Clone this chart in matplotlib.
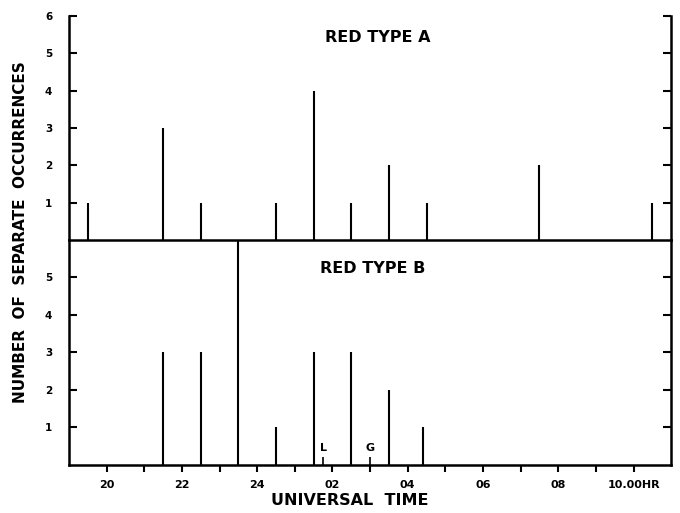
import numpy as np
import matplotlib.pyplot as plt

# universal time in hours (24 = midnight, 26 = 02h ...)
hours_a = [19.5, 21.5, 22.5, 24.5, 25.5, 26.5, 27.5, 28.5, 31.5, 34.5]
count_a = [1, 3, 1, 1, 4, 1, 2, 1, 2, 1]

hours_b = [21.5, 22.5, 23.5, 24.5, 25.5, 26.5, 27.5, 28.4]
count_b = [3, 3, 6, 1, 3, 3, 2, 1]

mark_pos = [25.75, 27.0]
mark_txt = ['L', 'G']

xticks = [20, 22, 24, 26, 28, 30, 32, 34]
xlabels = ['20', '22', '24', '02', '04', '06', '08', '10.00HR']

plt.rcParams['font.family'] = ['DejaVu Sans']
plt.rcParams['font.weight'] = 'bold'

fig = plt.figure(figsize=(6.8, 5.13), dpi=100)
ax2 = fig.add_axes([0.1015, 0.0936, 0.8855, 0.4386])
ax1 = fig.add_axes([0.1015, 0.5322, 0.8855, 0.4366])
ax1.patch.set_alpha(0)

lw = 1.8
for ax in (ax1, ax2):
    ax.set_xlim(19, 35)
    ax.set_ylim(0, 6)
    ax.spines['top'].set_visible(False)
    for s in ('left', 'right', 'bottom'):
        ax.spines[s].set_linewidth(lw)
    ax.tick_params(axis='y', direction='in', length=6, width=1.5,
                   right=True, labelsize=7.5, pad=12)

ax1.vlines(hours_a, 0, count_a, color='k', linewidth=1.5)
ax1.set_yticks(range(1, 7))
ax1.set_xticks([])
ax1.text(0.513, 0.905, 'RED TYPE A', transform=ax1.transAxes, ha='center',
         va='center', fontsize=11.5)

ax2.vlines(hours_b, 0, count_b, color='k', linewidth=1.5)
ax2.vlines(mark_pos, 0, 0.2, color='k', linewidth=1.2)
for p, t in zip(mark_pos, mark_txt):
    ax2.text(p, 0.45, t, ha='center', va='center', fontsize=8)
ax2.set_yticks(range(1, 6))
ax2.set_xticks(xticks)
ax2.set_xticklabels(xlabels)
ax2.set_xticks(np.arange(21, 35, 2), minor=True)
ax2.tick_params(axis='x', which='both', direction='out', length=5,
                width=1.5, labelsize=8, pad=6)
ax2.text(0.505, 0.875, 'RED TYPE B', transform=ax2.transAxes, ha='center',
         va='center', fontsize=11.5)

fig.text(0.515, 0.025, 'UNIVERSAL  TIME', ha='center', va='center',
         fontsize=11.5)
fig.text(0.03, 0.548, 'NUMBER  OF  SEPARATE  OCCURRENCES', rotation=90,
         ha='center', va='center', fontsize=11)

fig.savefig('out.png', dpi=100)
